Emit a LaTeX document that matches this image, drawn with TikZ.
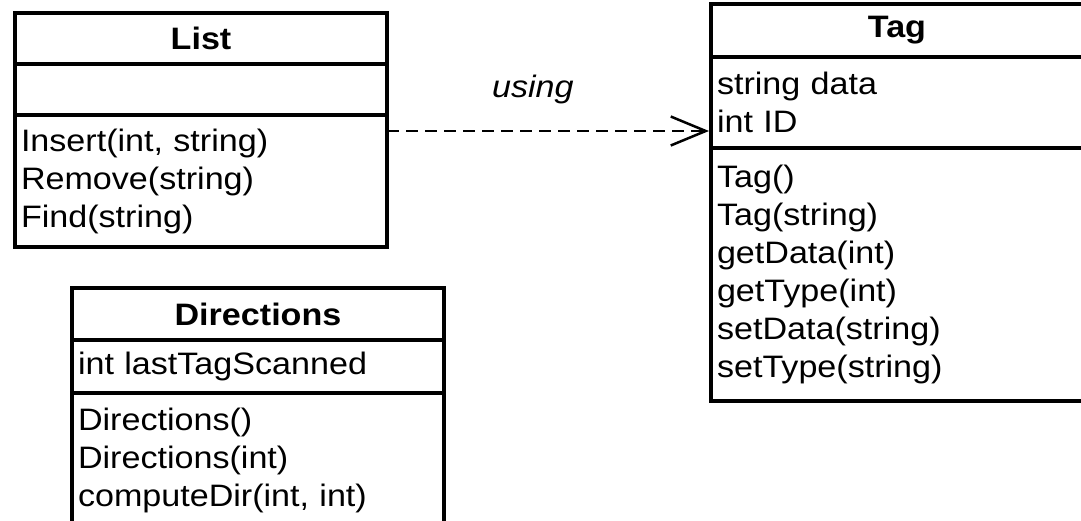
\documentclass[tikz,border=0pt]{standalone}
\usepackage{fontspec}
\setmainfont[FakeStretch=1.1]{Liberation Sans}
\usetikzlibrary{positioning,arrows.meta}
\newcommand{\umlsize}{\fontsize{31}{38}\selectfont}
\begin{document}
\begin{tikzpicture}[x=1pt,y=1pt,node distance=0pt,
            box/.style={draw,line width=4.5pt,outer sep=0pt,inner xsep=6pt,inner ysep=0pt,
                        text width=360pt,font=\umlsize},
            title/.style={box,align=center,font=\umlsize\bfseries},
            members/.style={box,align=left},
            uses/.style={line width=2pt,dash pattern=on 12pt off 7pt,shorten >=2pt,
                         -{Straight Barb[length=35pt,width=29pt,line width=2.5pt]}}]
        \useasboundingbox (0,0) rectangle (1081,-521);
        \clip (0,0) rectangle (1081,-521);

        % List class
        \node[title,minimum height=51pt,anchor=north west] (listtitle) at (15,-13) {List};
        \node[members,minimum height=51pt,below=of listtitle] (listattrs) {};
        \node[members,minimum height=132pt,below=of listattrs] (listops)
            {Insert(int, string)\\Remove(string)\\Find(string)};

        % Tag class
        \node[title,minimum height=53pt,anchor=north west] (tagtitle) at (711,-4) {Tag};
        \node[members,minimum height=91pt,below=of tagtitle] (tagattrs)
            {string data\\int ID};
        \node[members,minimum height=253pt,below=of tagattrs] (tagops)
            {Tag()\\Tag(string)\\getData(int)\\getType(int)\\setData(string)\\setType(string)};

        % Directions class
        \node[title,minimum height=52pt,anchor=north west] (dirtitle) at (72,-288) {Directions};
        \node[members,minimum height=53pt,below=of dirtitle] (dirattrs) {int lastTagScanned};
        \node[members,minimum height=134pt,below=of dirattrs] (dirops)
            {Directions()\\Directions(int)\\computeDir(int, int)};

        % Draw dependency
        \draw[uses] ([yshift=50pt]listops.east)
            -- node[pos=0.45,above=26pt,inner sep=0pt,font=\umlsize\itshape] {using}
            ([yshift=50pt]listops.east -| tagattrs.west);

\end{tikzpicture}
\end{document}
